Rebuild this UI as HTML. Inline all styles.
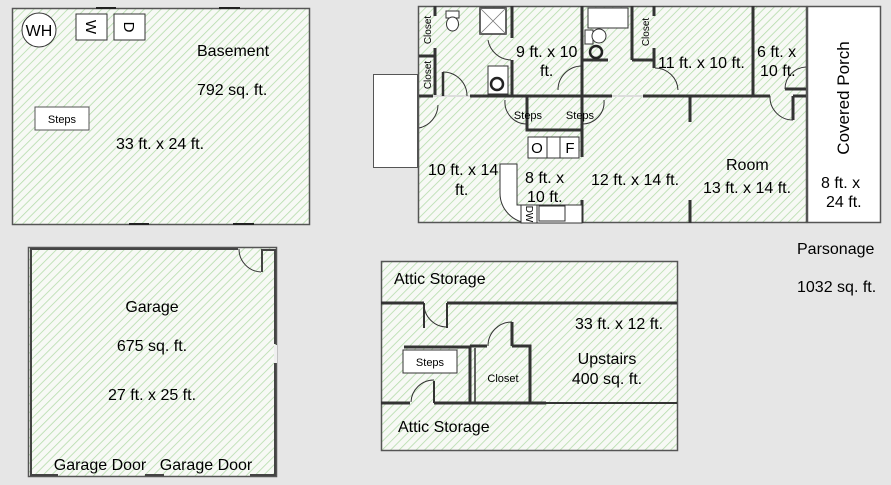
<!DOCTYPE html>
<html><head><meta charset="utf-8"><style>
html,body{margin:0;padding:0;background:#e6e6e6;}
svg{display:block;font-family:"Liberation Sans",sans-serif;}
</style></head><body>
<svg width="891" height="485" viewBox="0 0 891 485" xmlns="http://www.w3.org/2000/svg">
<defs>
<pattern id="h" width="6" height="6" patternUnits="userSpaceOnUse" patternTransform="rotate(45)">
<rect width="6" height="6" fill="#f7f9f5"/>
<line x1="0" y1="0" x2="0" y2="6" stroke="#b5dcab" stroke-width="1.6"/>
</pattern>
</defs>

<!-- Basement -->
<rect x="12.5" y="8.5" width="297" height="216" fill="url(#h)" stroke="#555" stroke-width="1.5"/>
<g stroke="#222" stroke-width="2"><line x1="96" y1="8" x2="116" y2="8"/><line x1="219" y1="8" x2="240" y2="8"/><line x1="129" y1="224" x2="149" y2="224"/><line x1="233" y1="224" x2="254" y2="224"/></g>
<circle cx="39" cy="30" r="17" fill="#fff" stroke="#333"/>
<text x="39" y="36" font-size="16" text-anchor="middle">WH</text>
<rect x="76" y="14" width="31" height="26" fill="#fff" stroke="#333"/>
<text x="91" y="27" font-size="15" text-anchor="middle" transform="rotate(90 91 27)" dy="5">W</text>
<rect x="114" y="14" width="31" height="26" fill="#fff" stroke="#333"/>
<text x="129" y="27" font-size="15" text-anchor="middle" transform="rotate(90 129 27)" dy="5">D</text>
<text x="197" y="56" font-size="16">Basement</text>
<text x="197" y="95" font-size="16">792 sq. ft.</text>
<rect x="35" y="107" width="54" height="23" fill="#fff" stroke="#555"/>
<text x="62" y="123" font-size="11" text-anchor="middle">Steps</text>
<text x="116" y="149" font-size="16">33 ft. x 24 ft.</text>

<!-- Garage -->
<rect x="28.5" y="247.5" width="248" height="229" fill="url(#h)" stroke="#555" stroke-width="1.5"/>
<path d="M238 249 L31 249 L31 475 L58 475 M145 475 L164 475 M250 475 L275 475 L275 363 M275 344 L275 250 L262 250 L262 272" fill="none" stroke="#444" stroke-width="2"/>
<rect x="274" y="345" width="3" height="18" fill="#f0f0f0"/>
<path d="M239 249 A23 23 0 0 0 261 272" fill="none" stroke="#333" stroke-width="1"/>
<text x="152" y="312" font-size="16" text-anchor="middle">Garage</text>
<text x="152" y="351" font-size="16" text-anchor="middle">675 sq. ft.</text>
<text x="152" y="400" font-size="16" text-anchor="middle">27 ft. x 25 ft.</text>
<text x="100" y="470" font-size="16" text-anchor="middle">Garage Door</text>
<text x="206" y="470" font-size="16" text-anchor="middle">Garage Door</text>

<!-- Upstairs -->
<rect x="381.5" y="261.5" width="296" height="189" fill="url(#h)" stroke="#555" stroke-width="1.5"/>
<g stroke="#333" stroke-width="3" fill="none">
<path d="M381 303 L424 303 M447 303 L677 303"/>
<path d="M381 403 L410 403 M434 403 L546 403"/>
<path d="M546 403 L677 403" stroke-width="2"/>
<path d="M404 347 L470 347 M470 347 L470 403 M470 346 L487 346 M512 346 L530 346 L530 403 M512 346 L512 322"/>
<path d="M424 303 L424 328" stroke-width="2"/>
<path d="M447 303 L447 328" stroke-width="2"/>
<path d="M434 403 L434 381" stroke-width="2"/>
</g>
<line x1="475" y1="348" x2="475" y2="402" stroke="#333" stroke-width="1.5"/>
<path d="M424 304 A23 23 0 0 0 447 327" fill="none" stroke="#333"/>
<path d="M411 402 A23 23 0 0 1 434 380" fill="none" stroke="#333"/>
<path d="M488 346 A24 24 0 0 1 512 322" fill="none" stroke="#333"/>
<rect x="403" y="350" width="54" height="23" fill="#fff" stroke="#333"/>
<text x="430" y="366" font-size="11" text-anchor="middle">Steps</text>
<text x="503" y="382" font-size="11" text-anchor="middle">Closet</text>
<text x="394" y="284" font-size="16">Attic Storage</text>
<text x="398" y="432" font-size="16">Attic Storage</text>
<text x="575" y="329" font-size="16">33 ft. x 12 ft.</text>
<text x="607" y="364" font-size="16" text-anchor="middle">Upstairs</text>
<text x="607" y="384" font-size="16" text-anchor="middle">400 sq. ft.</text>

<!-- Parsonage -->
<rect x="373.5" y="74.5" width="44" height="93" fill="#fff" stroke="#555"/>
<rect x="418.5" y="6.5" width="388" height="216" fill="url(#h)" stroke="#555" stroke-width="1.5"/>
<rect x="807.5" y="6.5" width="73" height="216" fill="#fff" stroke="#555" stroke-width="1.5"/>
<g stroke="#333" stroke-width="3" fill="none">
<path d="M419 96 L433 96 M470 96 L612 96 M643 96 L770 96 M793 96 L806 96"/>
<path d="M435 6 L435 16 M435 48 L435 96"/>
<path d="M419 56 L435 56"/>
<path d="M512 6 L512 38 M512 60 L512 96"/>
<path d="M582 6 L582 157 M582 200 L582 223"/>
<path d="M582 60 L608 60 M632 60 L654 60 M632 6 L632 60 M654 6 L654 16 M654 48 L654 68"/>
<path d="M690 96 L690 122 M690 200 L690 223"/>
<path d="M753 6 L753 96"/>
<path d="M793 96 L793 120"/>
<path d="M785 89 L806 89"/>
<path d="M527 96 L527 130 L582 130"/>
</g>
<path d="M433 96 L470 96 M612 96 L643 96" stroke="#ddd" stroke-width="2"/>
<!-- doors -->
<g fill="none" stroke="#333" stroke-width="1">
<path d="M488 40 A24 24 0 0 0 511 60"/>
<path d="M443 72 A24 24 0 0 1 467 96"/>
<path d="M443 72 L443 96" stroke-width="2.5"/>
<path d="M558 90 A24 24 0 0 1 582 66"/>
<path d="M655 68 A23 23 0 0 1 678 90"/>
<path d="M770 96 A23 23 0 0 0 793 120"/>
<path d="M785 89 A22 22 0 0 1 806 67"/>
<path d="M419 128 A24 24 0 0 0 438 105"/>
<path d="M505 100 A22 22 0 0 0 527 124"/>
<path d="M604 100 A22 22 0 0 1 582 124"/>
</g>
<!-- fixtures -->
<rect x="480" y="8" width="26" height="26" fill="#fff" stroke="#333" stroke-width="1.5"/>
<path d="M480 8 L506 34 M506 8 L480 34" stroke="#777" stroke-width="0.8"/>
<rect x="446" y="11" width="13" height="7" fill="#fff" stroke="#333"/>
<ellipse cx="452.5" cy="24" rx="6" ry="7" fill="#fff" stroke="#333"/>
<rect x="488" y="66" width="20" height="28" fill="#fff" stroke="#333"/>
<circle cx="497" cy="84" r="6" fill="none" stroke="#222" stroke-width="2.5"/>
<rect x="588" y="8" width="40" height="20" fill="#fff" stroke="#333"/>
<rect x="585" y="30" width="8" height="14" fill="#fff" stroke="#333"/>
<ellipse cx="599" cy="36" rx="7" ry="7" fill="#fff" stroke="#333"/>
<circle cx="596" cy="52" r="6" fill="none" stroke="#222" stroke-width="2.5"/>
<rect x="528" y="137" width="51" height="21" fill="#fff" stroke="#333"/>
<line x1="547" y1="137" x2="547" y2="158" stroke="#333"/>
<line x1="560" y1="137" x2="560" y2="158" stroke="#333"/>
<text x="537" y="153" font-size="15" text-anchor="middle">O</text>
<text x="570" y="153" font-size="15" text-anchor="middle">F</text>
<path d="M500 164 L517 164 L517 205 L582 205 L582 223 L530 223 A30 30 0 0 1 500 193 Z" fill="#fff" stroke="#333"/>
<rect x="521" y="205" width="16" height="18" fill="#fff" stroke="#333"/>
<text x="529" y="214" font-size="10" text-anchor="middle" transform="rotate(90 529 214)" dy="3">DW</text>
<rect x="539" y="206" width="26" height="15" fill="#fff" stroke="#333"/>
<!-- labels -->
<g font-size="10" text-anchor="middle">
<text transform="translate(431 30) rotate(-90)">Closet</text>
<text transform="translate(431 75) rotate(-90)">Closet</text>
<text transform="translate(649 32) rotate(-90)">Closet</text>
</g>
<text x="528" y="119" font-size="11" text-anchor="middle">Steps</text>
<text x="580" y="119" font-size="11" text-anchor="middle">Steps</text>
<g font-size="16">
<text x="516" y="57">9 ft. x 10</text>
<text x="540" y="76">ft.</text>
<text x="658" y="68">11 ft. x 10 ft.</text>
<text x="757" y="57">6 ft. x</text>
<text x="760" y="76">10 ft.</text>
<text x="428" y="175">10 ft. x 14</text>
<text x="455" y="195">ft.</text>
<text x="525" y="183">8 ft. x</text>
<text x="527" y="202">10 ft.</text>
<text x="591" y="185">12 ft. x 14 ft.</text>
<text x="726" y="170">Room</text>
<text x="703" y="193">13 ft. x 14 ft.</text>
<text x="821" y="188">8 ft. x</text>
<text x="826" y="207">24 ft.</text>
<text transform="translate(849 98) rotate(-90)" text-anchor="middle" font-size="17">Covered Porch</text>
<text x="797" y="254">Parsonage</text>
<text x="797" y="292">1032 sq. ft.</text>
</g>
</svg>
</body></html>
